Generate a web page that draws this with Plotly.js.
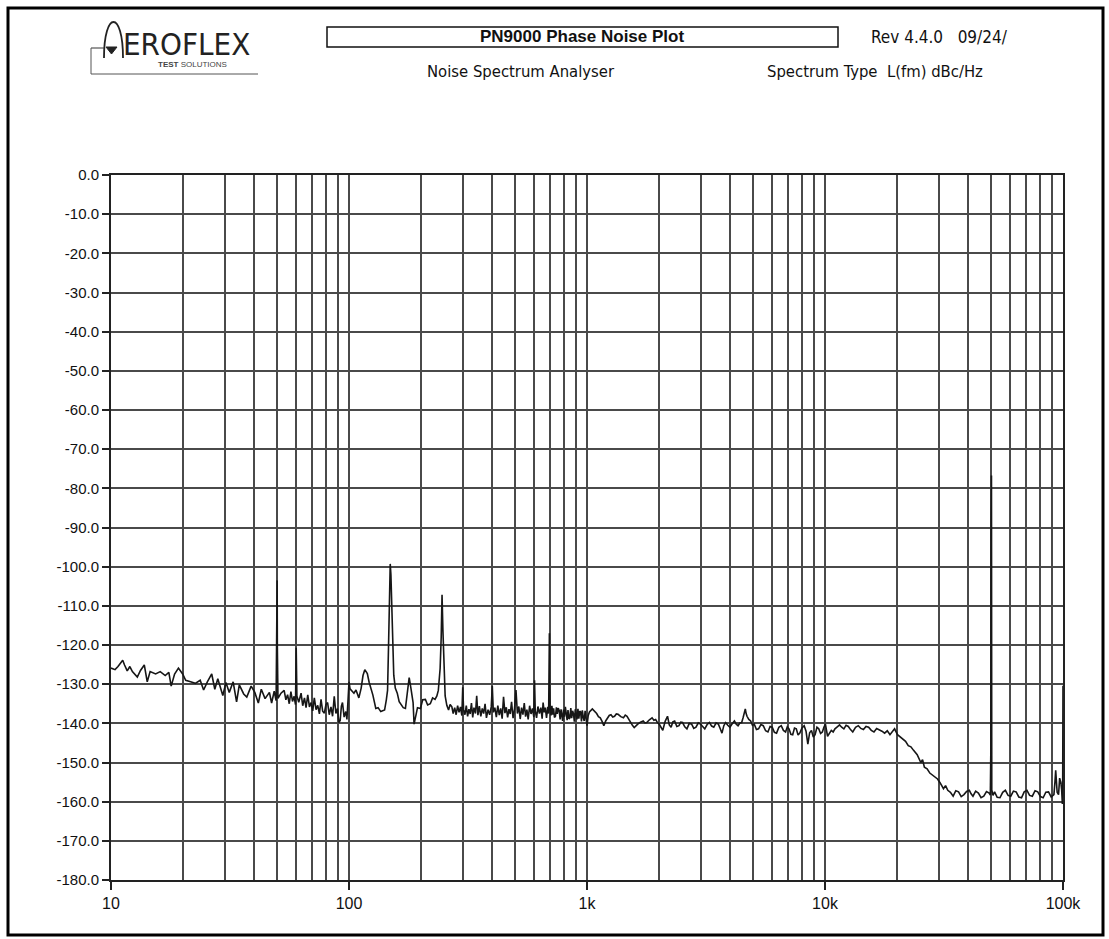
<!DOCTYPE html>
<html>
<head>
<meta charset="utf-8">
<script src="https://cdn.plot.ly/plotly-3.0.1.min.js"></script>
<style>html,body{margin:0;padding:0;background:#fff;}#chart{width:1109px;height:939px;}</style>
</head>
<body>
<div id="chart"></div>
<script>
// ---- data ----
const freqHz = [
10.0,10.4,10.7,11.2,11.4,11.7,12.0,12.3,12.9,13.3,13.8,14.2,14.6,15.4,16.1,16.9,17.5,17.9,18.5,19.2,
20.0,20.6,21.6,22.6,23.7,24.5,25.4,26.5,27.3,28.1,29.5,30.4,31.4,32.6,33.7,34.6,36.1,37.2,38.8,40.2,
41.6,42.8,44.4,46.3,47.3,48.5,49.4,49.8,49.9,50.0,50.3,51.8,53.4,54.3,55.2,56.1,57.0,57.9,58.8,59.6,
60.0,60.4,61.5,62.9,63.9,65.0,66.0,67.1,68.2,69.3,70.4,71.5,72.7,73.9,75.1,76.3,77.5,78.8,80.0,81.3,
82.6,84.0,85.3,86.7,88.1,89.5,90.6,91.8,92.9,93.9,95.4,97.0,98.0,99.1,100.0,101.0,104.9,107.0,110.0,112.5,
114.5,116.5,119.4,121.5,123.4,126.0,129.6,132.5,136.0,141.1,143.5,145.2,146.5,147.5,148.5,149.0,150.0,151.0,152.5,154.2,
156.5,159.5,162.5,165.8,169.0,172.6,176.5,179.0,182.0,185.9,187.7,190.5,194.0,199.6,204.0,209.4,214.0,219.6,224.5,229.9,
234.0,237.3,241.5,244.0,246.0,248.0,250.5,253.5,257.6,262.0,266.0,270.5,274.0,278.0,282.0,286.0,290.0,294.0,298.0,300.5,
303,307,311,315,319,323,327,331,335,340,344,348,353,358,363,368,373,378,384,390,
396,400,404,410,416,422,428,434,440,446,452,458,464,470,476,482,489,496,503,510,
517,524,531,538,545,552,559,566,574,582,590,598,602,606,614,622,631,640,648,654,
661,668,676,684,690,694,695,696.5,700,706,712,718,724,730,737,744,750,757,764,771,
778,785,790,797,804,811,818,825,832,840,847,855,862,870,877,885,893,900,908,916,
924,932,940,948,956,964,973,982,991,1000,1012,1024,1053,1075,1098,1117,1137,1157,1177,1198,
1218,1240,1261,1283,1305,1328,1351,1387,1423,1448,1473,1499,1525,1552,1579,1606,1634,1678,1722,1752,
1782,1829,1877,1910,1943,1977,2011,2046,2082,2130,2179,2217,2256,2295,2335,2385,2435,2478,2521,2575,
2629,2690,2752,2810,2870,2935,3000,3062,3125,3197,3270,3340,3410,3487,3564,3627,3691,3757,3823,3904,
3985,4074,4163,4237,4312,4389,4466,4530,4580,4625,4663,4702,4786,4871,4958,5045,5152,5259,5380,5503,
5630,5757,5878,6000,6129,6258,6400,6548,6688,6828,6944,7060,7187,7314,7445,7575,7705,7836,8006,8176,
8323,8470,8620,8773,8930,9087,9250,9412,9580,9749,9894,10040,10250,10440,10630,10820,11010,11260,11510,11750,
12000,12260,12530,12800,13080,13440,13800,14150,14500,14870,15250,15650,16060,16480,16910,17350,17800,18270,18750,19170,
19600,20170,20700,21260,21800,22380,22960,23560,24400,25260,25700,26160,26860,27570,28300,29030,29700,30390,30900,31460,
32100,32800,33650,34550,35450,36400,37350,38350,39350,40400,41100,41850,42950,44110,45250,46460,47700,48960,49500,49750,
49850,49950,50050,50200,50800,51580,52900,54340,55800,57250,58800,60320,61900,63550,65200,66960,68700,70550,72400,74320,
76300,78310,80400,82510,84700,86930,89200,91590,92500,93170,94500,95800,96800,97950,98700,99400,99700,100000
];
const noiseDbcHz = [
-125.9,-126.3,-125.5,-123.9,-125.1,-126.6,-125.5,-126.8,-128.2,-126.5,-125.1,-129.4,-126.8,-127.4,-126.8,-127.8,-127.0,-130.5,-127.4,-125.9,
-127.4,-129.0,-129.4,-129.8,-129.0,-131.5,-129.4,-127.4,-131.3,-128.6,-132.9,-129.6,-132.1,-129.4,-134.5,-130.2,-132.5,-133.3,-130.5,-132.1,
-134.8,-131.3,-133.7,-132.1,-134.8,-131.8,-134.2,-119.5,-103.5,-120.5,-133.6,-132.3,-131.6,-134.0,-132.7,-135.0,-131.9,-134.4,-133.1,-135.2,
-120.7,-133.0,-134.6,-132.3,-135.5,-133.5,-136.0,-132.7,-135.8,-134.7,-136.8,-133.5,-136.5,-135.4,-137.6,-133.9,-136.9,-137.4,-135.2,-134.7,
-137.8,-135.8,-138.2,-133.1,-137.5,-136.2,-139.8,-139.3,-135.6,-134.7,-138.4,-137.0,-139.0,-133.9,-129.4,-131.2,-132.3,-131.5,-133.5,-131.0,
-127.8,-126.3,-127.3,-129.5,-130.8,-132.8,-136.2,-136.0,-137.0,-136.6,-134.0,-131.6,-121.0,-110.0,-100.5,-99.3,-102.0,-110.0,-121.0,-127.7,
-131.0,-132.3,-134.5,-135.4,-136.0,-136.2,-132.0,-128.3,-131.0,-134.7,-140.2,-138.5,-136.0,-136.2,-134.0,-133.9,-135.3,-135.0,-133.5,-133.9,
-133.0,-131.6,-126.0,-118.0,-107.2,-116.0,-126.0,-133.0,-135.4,-136.6,-135.2,-135.8,-137.5,-136.0,-137.8,-135.5,-137.2,-135.8,-138.0,-130.8,
-136.5,-137.8,-135.5,-138.2,-136.4,-137.6,-134.8,-138.5,-136.0,-137.5,-133.0,-137.9,-135.6,-138.2,-136.2,-137.5,-135.0,-138.6,-136.5,-137.8,
-135.8,-130.5,-137.2,-136.0,-138.4,-135.5,-137.9,-136.2,-138.8,-133.2,-137.4,-135.9,-138.5,-136.4,-137.6,-134.5,-138.7,-136.3,-131.5,-137.5,
-135.7,-138.9,-136.0,-137.8,-134.8,-138.3,-136.5,-139.0,-135.5,-137.6,-136.2,-138.4,-129.0,-136.8,-138.6,-135.7,-137.5,-136.0,-138.8,-134.7,
-137.2,-136.0,-138.6,-135.8,-137.5,-128.0,-117.0,-130.0,-136.4,-138.0,-135.5,-137.8,-136.2,-138.5,-138.2,-135.9,-137.6,-136.1,-136.7,-139.0,
-136.4,-138.2,-139.4,-136.5,-138.3,-135.8,-137.1,-139.2,-136.6,-138.9,-138.6,-136.1,-138.7,-136.8,-137.5,-139.6,-136.4,-138.5,-139.0,-136.3,
-138.8,-136.9,-137.1,-139.5,-136.7,-138.4,-139.4,-136.8,-139.8,-140.6,-138.0,-137.1,-136.3,-136.9,-137.5,-138.3,-138.6,-139.5,-140.6,-139.4,
-138.6,-138.0,-137.8,-138.4,-138.2,-137.6,-137.7,-138.3,-138.6,-137.9,-138.2,-139.1,-139.8,-140.5,-141.1,-140.6,-140.2,-139.7,-139.4,-139.9,
-139.8,-139.1,-138.6,-139.2,-139.0,-139.8,-140.2,-141.0,-141.8,-139.5,-138.2,-140.4,-141.0,-139.6,-139.4,-140.8,-140.6,-139.7,-139.8,-140.9,
-141.4,-140.0,-140.2,-141.3,-141.0,-139.9,-140.2,-140.8,-141.4,-140.3,-139.8,-140.7,-141.0,-139.9,-140.2,-141.3,-142.5,-140.6,-139.8,-140.5,
-141.0,-140.1,-139.4,-140.2,-140.6,-139.9,-139.8,-138.5,-136.8,-136.3,-137.5,-138.2,-139.0,-139.4,-140.5,-140.2,-141.6,-141.4,-140.3,-140.6,
-141.9,-142.2,-140.8,-141.0,-142.3,-142.5,-141.0,-140.6,-141.8,-142.2,-140.9,-141.4,-142.8,-142.9,-141.2,-141.4,-143.0,-142.5,-141.2,-140.6,
-142.0,-145.3,-142.4,-141.8,-143.5,-142.9,-141.0,-141.4,-142.6,-142.2,-141.0,-140.2,-143.3,-142.5,-141.8,-142.2,-141.4,-140.9,-140.4,-141.0,
-141.4,-140.5,-140.8,-141.6,-142.2,-141.0,-140.6,-141.3,-141.6,-140.8,-141.0,-141.8,-142.2,-141.3,-141.6,-142.0,-142.5,-141.9,-142.9,-142.0,
-141.4,-142.9,-143.4,-144.1,-144.6,-145.7,-146.0,-146.9,-148.0,-150.0,-149.3,-151.2,-151.6,-152.7,-153.2,-153.9,-154.2,-155.1,-155.8,-156.7,
-155.9,-157.1,-157.6,-158.6,-157.2,-157.5,-158.7,-158.2,-157.4,-157.1,-158.0,-158.6,-157.3,-157.8,-159.0,-158.6,-157.4,-157.8,-158.3,-146.6,
-91.4,-141.0,-76.7,-157.0,-158.4,-157.5,-158.9,-159.0,-157.6,-157.1,-158.4,-158.6,-157.3,-157.5,-158.8,-159.0,-157.5,-157.1,-158.4,-158.6,
-157.2,-157.5,-158.7,-159.0,-157.6,-157.5,-158.8,-158.2,-155.0,-152.0,-157.6,-158.2,-154.0,-155.1,-157.0,-160.6,-156.0,-130.4
];

const xMajorVals = [10, 100, 1000, 10000, 100000];
const xMajorText = ["10", "100", "1k", "10k", "100k"];
const xGridVals = [20,30,40,50,60,70,80,90,200,300,400,500,600,700,800,900,
  2000,3000,4000,5000,6000,7000,8000,9000,20000,30000,40000,50000,60000,70000,80000,90000];
const yTickVals = [0,-10,-20,-30,-40,-50,-60,-70,-80,-90,-100,-110,-120,-130,-140,-150,-160,-170,-180];
const yTickText = ["0.0","-10.0","-20.0","-30.0","-40.0","-50.0","-60.0","-70.0","-80.0","-90.0",
  "-100.0","-110.0","-120.0","-130.0","-140.0","-150.0","-160.0","-170.0","-180.0"];

const chartTitle = "PN9000 Phase Noise Plot";
const revText = "Rev 4.4.0   09/24/";
const subTitle = "Noise Spectrum Analyser";
const specType = "Spectrum Type  L(fm) dBc/Hz";

// ---- drawing ----
const W = 1109, H = 939;
const L = 111, R = 46, T = 175, B = 59;
const pw = W - L - R, ph = H - T - B;
const px = v => (v - L) / pw;          // pixel x -> paper
const py = v => (H - B - v) / ph;      // pixel y -> paper

const narrow = "Liberation Sans Narrow, Arial Narrow, DejaVu Sans Condensed, Liberation Sans, sans-serif";
const sans = "Liberation Sans, Arial, sans-serif";
const gridC = "#4a4a4a";

const trace = {
  x: freqHz, y: noiseDbcHz, type: "scatter", mode: "lines",
  line: {color: "#161616", width: 1.6}, hoverinfo: "x+y", cliponaxis: true
};

const shapes = [
  {type:"rect", xref:"paper", yref:"paper", x0:px(8), x1:px(1103), y0:py(935), y1:py(8),
   line:{color:"#000", width:3}, fillcolor:"rgba(0,0,0,0)", layer:"below"},
  {type:"rect", xref:"paper", yref:"paper", x0:px(327), x1:px(838), y0:py(47), y1:py(27),
   line:{color:"#111", width:1.5}},
  {type:"path", xref:"paper", yref:"paper",
   path:`M ${px(104)} ${py(58)} C ${px(104)} ${py(10)} ${px(123)} ${py(10)} ${px(123)} ${py(58)}`,
   line:{color:"#222", width:1.8}},
  {type:"line", xref:"paper", yref:"paper", x0:px(91), x1:px(104), y0:py(48), y1:py(48), line:{color:"#333", width:1}},
  {type:"path", xref:"paper", yref:"paper",
   path:`M ${px(106)} ${py(47)} L ${px(117)} ${py(47)} L ${px(111.5)} ${py(54)} Z`,
   fillcolor:"#222", line:{color:"#222", width:1}},
  {type:"line", xref:"paper", yref:"paper", x0:px(91), x1:px(91), y0:py(48), y1:py(74), line:{color:"#555", width:1}},
  {type:"line", xref:"paper", yref:"paper", x0:px(91), x1:px(258), y0:py(74), y1:py(74), line:{color:"#555", width:1}}
];

const annotations = [
  {text:"<b>"+chartTitle+"</b>", xref:"paper", yref:"paper", x:px(582), y:py(37), showarrow:false,
   xanchor:"center", yanchor:"middle", font:{family:sans, size:17, color:"#111"}},
  {text:revText, xref:"paper", yref:"paper", x:px(869), y:py(37), showarrow:false,
   xanchor:"left", yanchor:"middle", font:{family:narrow, size:17, color:"#111"}},
  {text:subTitle, xref:"paper", yref:"paper", x:px(521), y:py(72), showarrow:false,
   xanchor:"center", yanchor:"middle", font:{family:narrow, size:16.5, color:"#111"}},
  {text:specType, xref:"paper", yref:"paper", x:px(765), y:py(72), showarrow:false,
   xanchor:"left", yanchor:"middle", font:{family:narrow, size:16.5, color:"#111"}},
  {text:"EROFLEX", xref:"paper", yref:"paper", x:px(121), y:py(44), showarrow:false,
   xanchor:"left", yanchor:"middle", font:{family:narrow, size:31, color:"#222"}},
  {text:"<b>TEST</b> SOLUTIONS", xref:"paper", yref:"paper", x:px(192), y:py(64), showarrow:false,
   xanchor:"center", yanchor:"middle", font:{family:sans, size:8, color:"#444"}}
];

const layout = {
  width: W, height: H,
  margin: {l: L, r: R, t: T, b: B, pad: 0},
  paper_bgcolor: "#fff", plot_bgcolor: "#fff",
  showlegend: false,
  xaxis: {
    type: "log", range: [1, 5], autorange: false,
    tickmode: "array", tickvals: xMajorVals, ticktext: xMajorText,
    ticks: "outside", ticklen: 8, tickwidth: 1.5, tickcolor: "#222",
    tickfont: {family: sans, size: 16, color: "#111"},
    showgrid: true, gridcolor: gridC, gridwidth: 2,
    minor: {tickmode: "array", tickvals: xGridVals, showgrid: true, gridcolor: gridC, gridwidth: 2, ticks: ""},
    showline: true, mirror: true, linecolor: "#222", linewidth: 2, zeroline: false
  },
  yaxis: {
    range: [-180, 0], autorange: false,
    tickmode: "array", tickvals: yTickVals, ticktext: yTickText,
    ticks: "outside", ticklen: 7, tickwidth: 2, tickcolor: "#222",
    tickfont: {family: sans, size: 15, color: "#111"},
    showgrid: true, gridcolor: gridC, gridwidth: 2,
    showline: true, mirror: true, linecolor: "#222", linewidth: 2, zeroline: false
  },
  shapes: shapes,
  annotations: annotations
};

Plotly.newPlot("chart", [trace], layout, {staticPlot: true, displayModeBar: false});
</script>
</body>
</html>
